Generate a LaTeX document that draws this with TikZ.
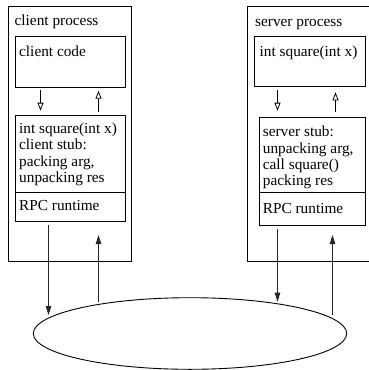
\documentclass[tikz,border=0pt]{standalone}
\usepackage{fontspec}
\setmainfont{Liberation Serif}
\usetikzlibrary{arrows.meta,shapes.geometric}
\begin{document}
\begin{tikzpicture}[x=1pt,y=-1pt,
  box/.style={draw=black,line width=0.9pt,anchor=north west,inner sep=0pt,outer sep=0pt},
  txt/.style={anchor=base west,inner sep=0pt,font=\fontsize{15.3}{16.3}\selectfont},
  openarrow/.style={draw=black,line width=0.8pt,-{Triangle[open,length=8pt,width=6pt]}},
  fullarrow/.style={draw=black!85,line width=1pt,-{Triangle[length=9pt,width=5.5pt]}}]
\useasboundingbox (0,0) rectangle (369,370);
\clip (0,0) rectangle (369,370);
% client side
\node[box,minimum width=123.5pt,minimum height=254.5pt] (cproc) at (8,6.5) {};
\node[box,minimum width=110pt,minimum height=51pt] (cc) at (15,36) {};
\node[box,minimum width=110pt,minimum height=76.6pt] (cstub) at (15,115.7) {};
\node[box,minimum width=110pt,minimum height=28.7pt] (crpc) at (15,192.3) {};
\node[txt] (t1) at (14.5,25) {client process};
\node[txt] (t2) at (19,56.7) {client code};
\node[txt] (t3) at (19,133.5) {int square(int x)};
\node[txt] (t4) at (19,149.8) {client stub:};
\node[txt] (t5) at (19,166.1) {packing arg,};
\node[txt] (t6) at (19,182.4) {unpacking res};
\node[txt] (t7) at (19,210.7) {RPC runtime};
% server side
\node[box,minimum width=140pt,minimum height=254.3pt] (sproc) at (247.5,6.7) {};
\node[box,minimum width=110.5pt,minimum height=50pt] (ssq) at (254.5,36.7) {};
\node[box,minimum width=106pt,minimum height=75.3pt] (sstub) at (259,117) {};
\node[box,minimum width=106pt,minimum height=32.7pt] (srpc) at (259,192.3) {};
\node[txt] (u1) at (255,26.7) {server process};
\node[txt] (u2) at (259.5,56.7) {int square(int x)};
\node[txt] (u3) at (262.7,136.7) {server stub:};
\node[txt] (u4) at (262.7,153) {unpacking arg,};
\node[txt] (u5) at (262.7,169.3) {call square()};
\node[txt] (u6) at (262.7,185.6) {packing res};
\node[txt] (u7) at (262.7,213.3) {RPC runtime};
% network
\node[draw=black,line width=0.9pt,ellipse,minimum width=313.4pt,minimum height=71.6pt,inner sep=0pt] (net) at (190,333.5) {};
% x positions of connectors
\coordinate (a1) at (40.5,0);
\coordinate (a2) at (98.5,0);
\coordinate (a3) at (277.5,0);
\coordinate (a4) at (335.5,0);
\coordinate (e1) at (48.5,315);
\coordinate (e2) at (98.5,301.7);
\coordinate (e3) at (277.5,301.7);
\coordinate (e4) at (332.5,315);
% upper arrows
\draw[openarrow] ([yshift=-2.7pt]cc.south -| a1) -- ([yshift=5pt]cstub.north -| a1);
\draw[openarrow] ([yshift=4pt]cstub.north -| a2) -- ([yshift=-3.7pt]cc.south -| a2);
\draw[openarrow] ([yshift=-3.3pt]ssq.south -| a3) -- ([yshift=6.3pt]sstub.north -| a3);
\draw[openarrow] ([yshift=5.3pt]sstub.north -| a4) -- ([yshift=-5.6pt]ssq.south -| a4);
% lower arrows
\draw[fullarrow] ([yshift=-4pt]crpc.south -| e1) -- (e1);
\draw[fullarrow] (e2) -- ([yshift=-14pt]crpc.south -| e2);
\draw[fullarrow] ([yshift=-4.3pt]srpc.south -| e3) -- (e3);
\draw[fullarrow] (e4) -- ([yshift=-10pt]srpc.south -| e4);
\end{tikzpicture}
\end{document}
